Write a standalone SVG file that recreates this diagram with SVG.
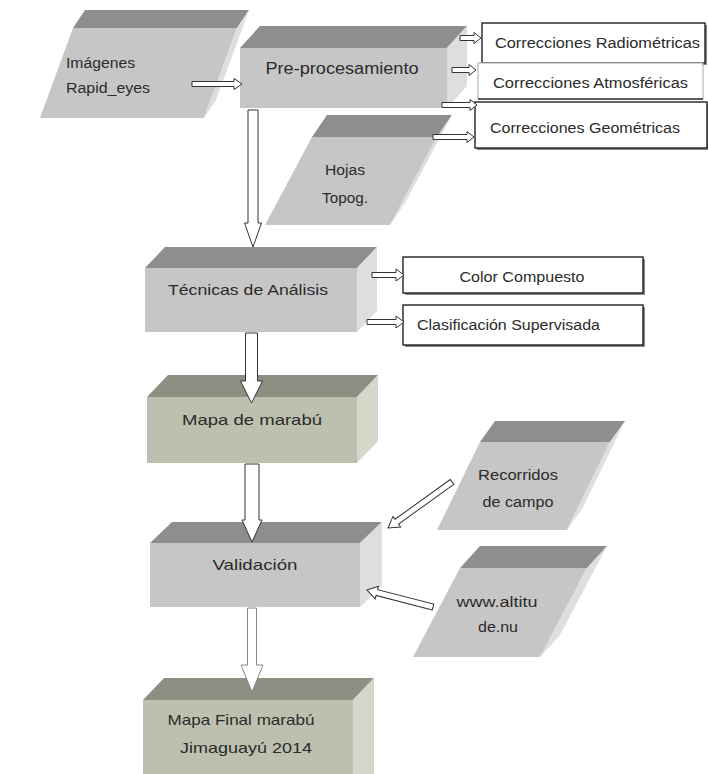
<svg xmlns="http://www.w3.org/2000/svg" width="708" height="774" viewBox="0 0 708 774">
<style>
text{font-family:"Liberation Sans","DejaVu Sans",sans-serif;fill:#2b2b2b;font-size:14px}
.big{font-size:15px}
.gf{fill:#c6c6c6}.gt{fill:#8e8e8e}.gs{fill:#dedede}
.vf{fill:#bdc0ae}.vt{fill:#8c8f81}.vs{fill:#d5d7ca}
.box{fill:#fff;stroke:#111;stroke-width:1.3}
.sh{fill:#8a8a8a}
.arr{fill:#fff;stroke:#333;stroke-width:1}
</style>
<rect width="708" height="774" fill="#fff"/>
<g id="imagenes">
<polygon class="gf" points="73,28 237,28 204,118 40,118"/>
<polygon class="gt" points="73,28 237,28 249,10 85,10"/>
<polygon class="gs" points="237,28 249,10 216,100 204,118"/>
<text x="66" y="68" textLength="69" lengthAdjust="spacingAndGlyphs">Imágenes</text>
<text x="66" y="93" textLength="84" lengthAdjust="spacingAndGlyphs">Rapid_eyes</text>
</g>
<g id="preprocesamiento">
<rect class="gf" x="240" y="48" width="207" height="60"/>
<polygon class="gt" points="240,48 447,48 467,26 260,26"/>
<polygon class="gs" points="447,48 467,26 467,86 447,108"/>
<text class="big" x="342" y="74" text-anchor="middle" textLength="153" lengthAdjust="spacingAndGlyphs" style="font-size:16px">Pre-procesamiento</text>
</g>
<g id="hojas">
<polygon class="gf" points="312,137 437,137 390,225 265,225"/>
<polygon class="gt" points="312,137 437,137 452,115 327,115"/>
<polygon class="gs" points="437,137 452,115 405,203 390,225"/>
<text x="345" y="175" text-anchor="middle" textLength="40" lengthAdjust="spacingAndGlyphs">Hojas</text>
<text x="345" y="203" text-anchor="middle" textLength="46" lengthAdjust="spacingAndGlyphs">Topog.</text>
</g>
<g id="radiometricas">
<rect class="sh" x="484" y="25" width="223" height="40"/>
<rect class="box" x="482" y="23" width="223" height="40"/>
<text x="495" y="48" textLength="205" lengthAdjust="spacingAndGlyphs">Correcciones Radiométricas</text>
</g>
<g id="atmosfericas">
<rect x="478" y="63" width="225" height="36" fill="#fff" stroke="#aaa" stroke-width="1"/>
<line x1="478" y1="99" x2="703" y2="99" stroke="#333" stroke-width="1.3"/>
<text x="493" y="88" textLength="195" lengthAdjust="spacingAndGlyphs">Correcciones Atmosféricas</text>
</g>
<g id="geometricas">
<rect class="sh" x="477" y="104" width="231" height="46"/>
<rect class="box" x="475" y="102" width="232" height="46"/>
<text x="490" y="133" textLength="190" lengthAdjust="spacingAndGlyphs">Correcciones Geométricas</text>
</g>
<g id="tecnicas">
<rect class="gf" x="145" y="268" width="212" height="64"/>
<polygon class="gt" points="145,268 357,268 377,247 165,247"/>
<polygon class="gs" points="357,268 377,247 377,311 357,332"/>
<text class="big" x="248" y="295" text-anchor="middle" textLength="160" lengthAdjust="spacingAndGlyphs">Técnicas de Análisis</text>
</g>
<g id="color">
<rect class="sh" x="405" y="259" width="240" height="36"/>
<rect class="box" x="403" y="257" width="240" height="36"/>
<text x="522" y="282" text-anchor="middle" textLength="125" lengthAdjust="spacingAndGlyphs">Color Compuesto</text>
</g>
<g id="clasificacion">
<rect class="sh" x="405" y="307" width="240" height="40"/>
<rect class="box" x="403" y="305" width="240" height="40"/>
<text x="417" y="330" textLength="183" lengthAdjust="spacingAndGlyphs">Clasificación Supervisada</text>
</g>
<g id="mapa">
<rect class="vf" x="147" y="397" width="210" height="66"/>
<polygon class="vt" points="147,397 357,397 378,375 168,375"/>
<polygon class="vs" points="357,397 378,375 378,441 357,463"/>
<text class="big" x="252" y="425" text-anchor="middle" textLength="140" lengthAdjust="spacingAndGlyphs">Mapa de marabú</text>
</g>
<g id="recorridos">
<polygon class="gf" points="480,442 610,442 567,530 437,530"/>
<polygon class="gt" points="480,442 610,442 625,421 495,421"/>
<polygon class="gs" points="610,442 625,421 582,509 567,530"/>
<text x="518" y="480" text-anchor="middle" textLength="80" lengthAdjust="spacingAndGlyphs">Recorridos</text>
<text x="518" y="507" text-anchor="middle" textLength="71" lengthAdjust="spacingAndGlyphs">de campo</text>
</g>
<g id="validacion">
<rect class="gf" x="150" y="543" width="210" height="64"/>
<polygon class="gt" points="150,543 360,543 382,522 172,522"/>
<polygon class="gs" points="360,543 382,522 382,586 360,607"/>
<text class="big" x="255" y="570" text-anchor="middle" textLength="85" lengthAdjust="spacingAndGlyphs">Validación</text>
</g>
<g id="altitude">
<polygon class="gf" points="460,568 587,568 540,657 413,657"/>
<polygon class="gt" points="460,568 587,568 607,546 480,546"/>
<polygon class="gs" points="587,568 607,546 560,635 540,657"/>
<text x="497" y="607" text-anchor="middle" textLength="81" lengthAdjust="spacingAndGlyphs">www.altitu</text>
<text x="498" y="632" text-anchor="middle" textLength="40" lengthAdjust="spacingAndGlyphs">de.nu</text>
</g>
<g id="final">
<rect class="vf" x="143" y="700" width="210" height="74"/>
<polygon class="vt" points="143,700 353,700 374,678 164,678"/>
<polygon class="vs" points="353,700 374,678 374,774 353,774"/>
<text class="big" x="241" y="725" text-anchor="middle" textLength="147" lengthAdjust="spacingAndGlyphs">Mapa Final marabú</text>
<text class="big" x="246" y="753" text-anchor="middle" textLength="132" lengthAdjust="spacingAndGlyphs">Jimaguayú 2014</text>
</g>
<g id="connectors">
<path class="arr" d="M192,81.5 H234 V78.5 L242,84 L234,89.5 V86.5 H192 Z"/>
<path class="arr" d="M460,35.5 H474 V32.5 L481,38 L474,43.5 V40.5 H460 Z"/>
<path class="arr" d="M452,67.5 H469 V64.5 L476,70 L469,75.5 V72.5 H452 Z"/>
<path class="arr" d="M442,102.5 H470 V99.5 L477,105 L470,110.5 V107.5 H442 Z"/>
<path class="arr" d="M433,134.5 H467 V131.5 L474,137 L467,142.5 V139.5 H433 Z"/>
<path class="arr" d="M372,272.5 H396 V269 L404,275 L396,281 V277.5 H372 Z"/>
<path class="arr" d="M367,319.5 H396 V316 L404,322 L396,328 V324.5 H367 Z"/>
<path class="arr" d="M248,110 V223 H244.5 L253,247 L261.5,223 H258 V110 Z"/>
<path class="arr" d="M245.5,333 V381 H240.5 L251.5,403 L262.5,381 H257.5 V333 Z"/>
<path class="arr" d="M245,464 V520 H242 L252,542 L262,520 H259 V464 Z"/>
<path class="arr" style="stroke:#888" d="M247.5,608 V665 H241 L252,692 L263,665 H256.5 V608 Z"/>
<path class="arr" transform="translate(452,482) rotate(144.3)" d="M0,-3 H68 V-6.5 L78.8,0 L68,6.5 V3 H0 Z"/>
<path class="arr" transform="translate(433,607) rotate(194.4)" d="M0,-3 H58 V-6.5 L68.2,0 L58,6.5 V3 H0 Z"/>
</g>
</svg>
